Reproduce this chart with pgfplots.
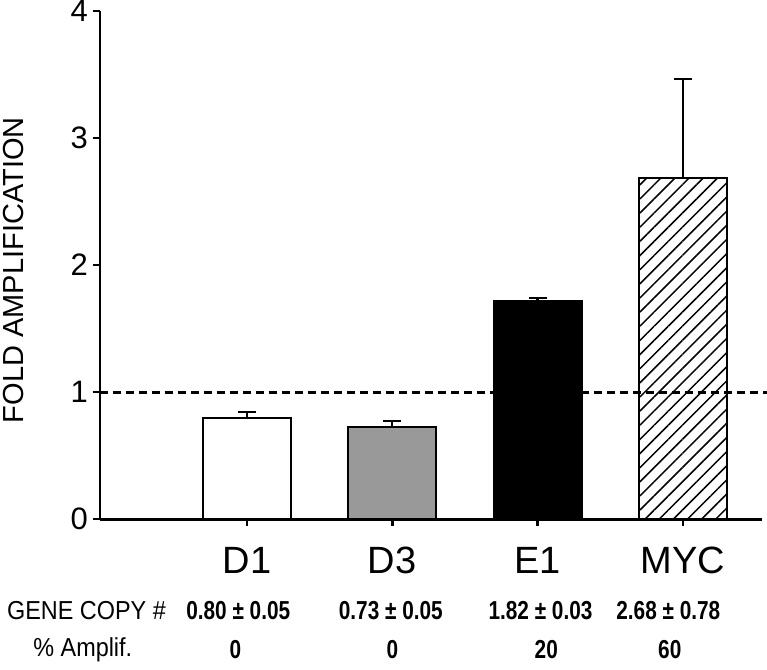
\documentclass[border=0pt]{standalone}
\usepackage{fontspec}
\setmainfont{Liberation Sans}
\usepackage{pgfplots}
\pgfplotsset{compat=1.18}
\usetikzlibrary{patterns.meta}
\begin{document}
\begin{tikzpicture}
\begin{axis}[
  scale only axis,
  width=331pt, height=254pt,
  xmin=-0.012, xmax=4.545,
  ymin=0, ymax=4,
  clip=false,
  axis x line*=bottom, axis y line*=left,
  axis line style={-, line width=1.4pt},
  tick style={line width=1.3pt, black},
  major tick length=3.5pt,
  tick align=outside,
  xtick={1,2,3,4},
  xticklabels={D1,D3,E1,MYC},
  xticklabel style={font=\fontsize{19}{22}\selectfont, yshift=-7pt},
  ytick={0,1,2,3,4},
  yticklabel style={font=\fontsize{15.5}{18}\selectfont, xshift=1pt},
  /pgf/number format/assume math mode=true,
  ylabel={FOLD AMPLIFICATION},
  every axis y label/.style={at={(axis description cs:-0.131,0.49)}, rotate=90, anchor=center, font=\fontsize{14.5}{17}\selectfont},
]
\addplot[ybar, bar width=0.605, bar shift=0pt, fill=white, draw=black, line width=1pt,
  error bars/.cd, y dir=plus, y explicit, error bar style={line width=1.1pt, black},
  error mark options={black, mark size=4.5pt, line width=1.1pt, rotate=90}]
  coordinates {(1,0.80) +- (0,0.045)};
\addplot[ybar, bar width=0.605, bar shift=0pt, fill=black!40, draw=black, line width=1pt,
  error bars/.cd, y dir=plus, y explicit, error bar style={line width=1.1pt, black},
  error mark options={black, mark size=4.5pt, line width=1.1pt, rotate=90}]
  coordinates {(2,0.725) +- (0,0.048)};
\addplot[ybar, bar width=0.605, bar shift=0pt, fill=black, draw=black, line width=1pt,
  error bars/.cd, y dir=plus, y explicit, error bar style={line width=1.1pt, black},
  error mark options={black, mark size=4.5pt, line width=1.1pt, rotate=90}]
  coordinates {(3,1.715) +- (0,0.025)};
\addplot[ybar, bar width=0.605, bar shift=0pt, draw=black, line width=1pt,
  pattern={Lines[angle=45, distance=5pt, line width=0.75pt]},
  error bars/.cd, y dir=plus, y explicit, error bar style={line width=1.1pt, black},
  error mark options={black, mark size=4.5pt, line width=1.1pt, rotate=90}]
  coordinates {(4,2.685) +- (0,0.78)};
\addplot[black, line width=1.5pt, dash pattern=on 4pt off 2.5pt]
  coordinates {(-0.012,1) (4.58,1)};
% table rows
\node[anchor=east, font=\fontsize{13}{15}\selectfont] at (axis cs:0.49,-0.717) {\scalebox{0.9}[1]{GENE COPY \#}};
\node[font=\fontsize{13}{15}\selectfont] at (axis cs:-0.13,-1.03) {\scalebox{0.9}[1]{\% Amplif.}};
\node[font=\fontsize{13}{15}\selectfont\bfseries] at (axis cs:0.94,-0.717) {\scalebox{0.8}[1]{0.80 ± 0.05}};
\node[font=\fontsize{13}{15}\selectfont\bfseries] at (axis cs:1.99,-0.717) {\scalebox{0.8}[1]{0.73 ± 0.05}};
\node[font=\fontsize{13}{15}\selectfont\bfseries] at (axis cs:3.02,-0.717) {\scalebox{0.8}[1]{1.82 ± 0.03}};
\node[font=\fontsize{13}{15}\selectfont\bfseries] at (axis cs:3.90,-0.717) {\scalebox{0.8}[1]{2.68 ± 0.78}};
\node[font=\fontsize{13}{15}\selectfont\bfseries] at (axis cs:0.92,-1.03) {\scalebox{0.8}[1]{0}};
\node[font=\fontsize{13}{15}\selectfont\bfseries] at (axis cs:2.0,-1.03) {\scalebox{0.8}[1]{0}};
\node[font=\fontsize{13}{15}\selectfont\bfseries] at (axis cs:3.06,-1.03) {\scalebox{0.8}[1]{20}};
\node[font=\fontsize{13}{15}\selectfont\bfseries] at (axis cs:3.91,-1.03) {\scalebox{0.8}[1]{60}};
\coordinate (bbsw) at (axis cs:-0.70,-1.181);
\coordinate (bbne) at (axis cs:4.579,4.087);
\end{axis}
\pgfresetboundingbox
\useasboundingbox (bbsw) rectangle (bbne);
\end{tikzpicture}
\end{document}
